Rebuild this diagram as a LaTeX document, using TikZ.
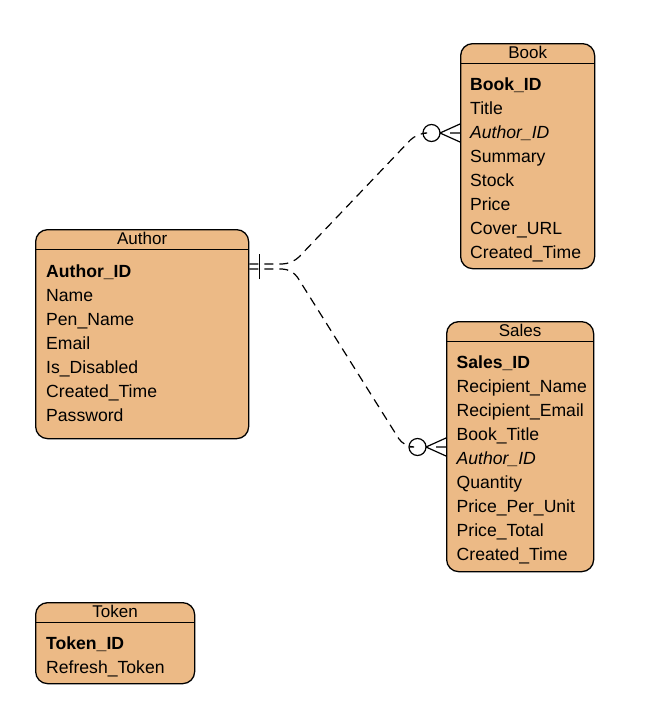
\documentclass[tikz,border=0pt]{standalone}
\usepackage{fontspec}
\setmainfont{Liberation Sans}
\usetikzlibrary{calc}

\definecolor{entityfill}{RGB}{236,186,134}

\tikzset{
  entity/.style={draw, fill=entityfill, rounded corners=12pt, line width=1.3pt, anchor=north west, inner sep=0pt},
  head/.style={font=\fontsize{17}{20}\selectfont, anchor=base, inner sep=0pt},
  field/.style={font=\fontsize{17.6}{24}\selectfont, anchor=base west, inner sep=0pt},
  rel/.style={dash pattern=on 9pt off 6pt, line width=1.2pt, rounded corners=10pt},
  zeromany/.pic={\draw[solid, line width=1.2pt] (-28.5pt,0pt) circle (8.5pt)
      (-20pt,0pt) -- (0pt,9pt) (-20pt,0pt) -- (0pt,-9pt) (-10pt,0pt) -- (0pt,0pt);},
  onlyone/.pic={\draw[solid, line width=1.4pt] (10pt,-12.5pt) -- (10pt,12.5pt);}
}

\begin{document}
\begin{tikzpicture}[x=1pt, y=-1pt]
\useasboundingbox (0,0) rectangle (657,707);

% entities
\node[entity, minimum width=213pt, minimum height=209pt] (author) at (35,229) {};
\node[entity, minimum width=134pt, minimum height=225pt] (book) at (460,43) {};
\node[entity, minimum width=147pt, minimum height=250pt] (sales) at (446,321) {};
\node[entity, minimum width=159pt, minimum height=81pt] (token) at (35,602) {};

% title bars
\foreach \e/\t in {author/Author, book/Book, sales/Sales, token/Token} {
  \draw[line width=1pt] ([yshift=-20pt]\e.north west) -- ([yshift=-20pt]\e.north east);
  \node[head] (\e-title) at ([yshift=-15.5pt]\e.north) {\t};
}

% fields
\foreach \f [count=\i] in {\textbf{Author\_ID}, Name, Pen\_Name, Email, Is\_Disabled, Created\_Time, Password}
  \node[field] (author-\i) at ($(author.north west)+(11pt,{-24pt-24pt*\i})$) {\f};
\foreach \f [count=\i] in {\textbf{Book\_ID}, Title, \textit{Author\_ID}, Summary, Stock, Price, Cover\_URL, Created\_Time}
  \node[field] (book-\i) at ($(book.north west)+(10pt,{-23.5pt-24pt*\i})$) {\f};
\foreach \f [count=\i] in {\textbf{Sales\_ID}, Recipient\_Name, Recipient\_Email, Book\_Title, \textit{Author\_ID}, Quantity, Price\_Per\_Unit, Price\_Total, Created\_Time}
  \node[field] (sales-\i) at ($(sales.north west)+(10.5pt,{-23.5pt-24pt*\i})$) {\f};
\foreach \f [count=\i] in {\textbf{Token\_ID}, Refresh\_Token}
  \node[field] (token-\i) at ($(token.north west)+(11pt,{-23.5pt-24pt*\i})$) {\f};

% relations
\coordinate (author-out) at ([yshift=-37.5pt]author.north east);
\coordinate (author-out1) at ([yshift=2.5pt]author-out);
\coordinate (author-out2) at ([yshift=-2.5pt]author-out);
\coordinate (book-in) at ([yshift=-90pt]book.north west);
\coordinate (sales-in) at ([yshift=-126pt]sales.north west);

\draw[rel] (author-out1) -- ++(43pt,0pt) -- ($(book-in)+(-43pt,0pt)$) -- ($(book-in)+(-37pt,0pt)$);
\draw[rel] (author-out2) -- ++(43pt,0pt) -- ($(sales-in)+(-42pt,0pt)$) -- ($(sales-in)+(-37.5pt,0pt)$);

\pic at (author-out) {onlyone};
\pic at (book-in) {zeromany};
\pic at (sales-in) {zeromany};
\end{tikzpicture}
\end{document}
